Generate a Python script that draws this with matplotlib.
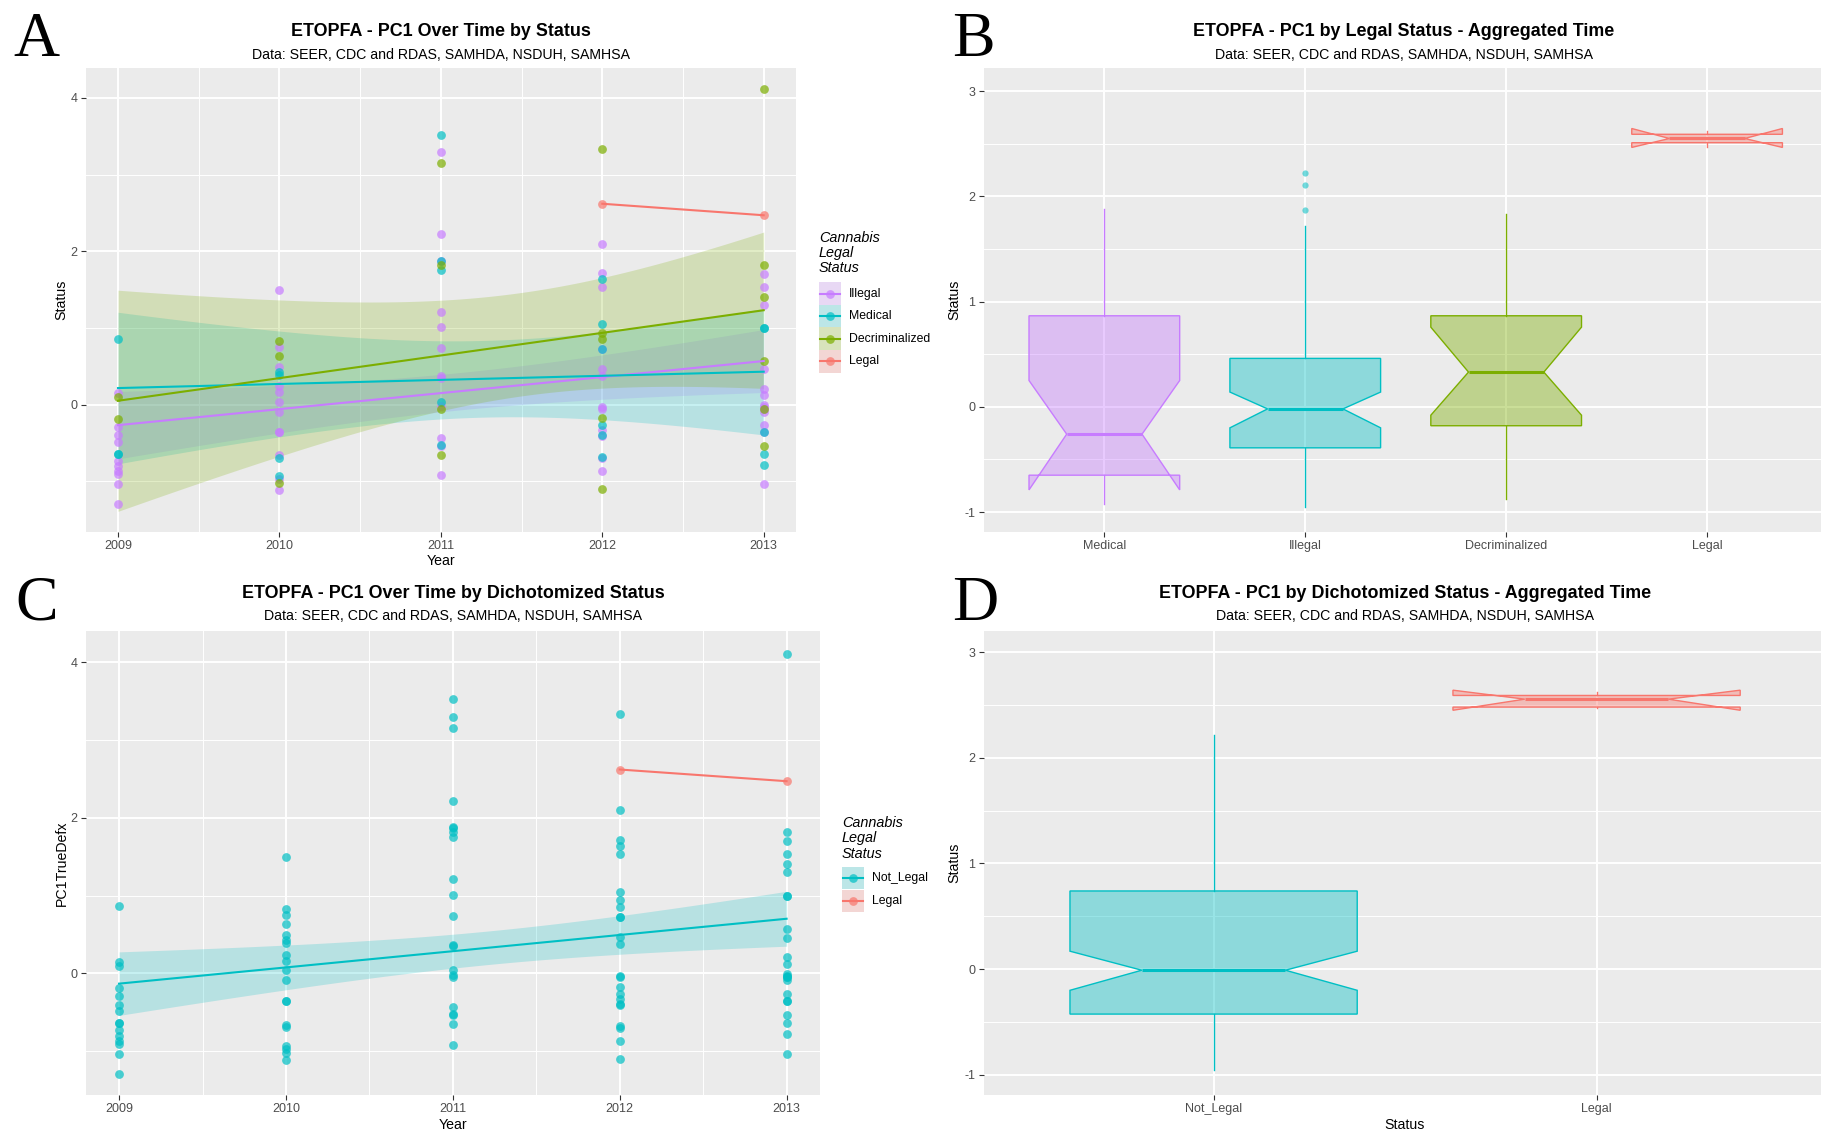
import numpy as np
import matplotlib
matplotlib.use("Agg")
import matplotlib.pyplot as plt
from matplotlib.patches import Rectangle
from matplotlib.lines import Line2D
from matplotlib.ticker import FixedLocator
from matplotlib.colors import to_rgba

plt.rcParams['font.family'] = ['Liberation Sans', 'DejaVu Sans']
plt.rcParams['axes.unicode_minus'] = False

W, H = 1821, 1132

# PC1 values per year (2009..2013) (overlapping dots counted twice)
years = [2009, 2010, 2011, 2012, 2013]
illegal = [
    [0.15, -0.29, -0.40, -0.48, -0.73, -0.80, -0.87, -0.91, -1.03, -1.29],
    [1.50, 0.75, 0.49, 0.24, 0.16, 0.04, -0.09, -0.35, -0.36, -0.66, -0.97, -1.11],
    [3.30, 2.22, 1.87, 1.21, 1.01, 0.74, 0.37, 0.35, -0.02, -0.43, -0.54, -0.92],
    [2.10, 1.72, 1.54, 0.72, 0.47, 0.38, -0.03, -0.05, -0.33, -0.41, -0.70, -0.87],
    [1.70, 1.53, 1.30, 0.46, 0.21, 0.12, -0.01, -0.03, -0.05, -0.09, -0.27, -0.36, -1.03],
]
medical = [
    [0.86, -0.64, -0.64],
    [0.43, 0.39, -0.69, -0.93],
    [3.52, 1.88, 1.75, 0.04, -0.52],
    [1.64, 1.05, 0.73, -0.27, -0.39, -0.68],
    [1.00, 1.00, -0.35, -0.64, -0.78],
]
decrim = [
    [0.10, -0.19],
    [0.83, 0.63, -1.02],
    [3.15, 1.82, -0.05, -0.65],
    [3.33, 0.94, 0.85, -0.18, -1.10],
    [4.11, 1.82, 1.41, 0.57, -0.05, -0.54],
]
legal = [[], [], [], [2.62], [2.47]]

status_names = ['Illegal', 'Medical', 'Decriminalized', 'Legal']
status_colors = ['#C77CFF', '#00BFC4', '#7CAE00', '#F8766D']

box_b_labels = ['Medical', 'Illegal', 'Decriminalized', 'Legal']
box_b_colors = ['#C77CFF', '#00BFC4', '#7CAE00', '#F8766D']
box_b_med = [-0.26, -0.02, 0.33, 2.55]
box_b_q1 = [-0.65, -0.39, -0.18, 2.51]
box_b_q3 = [0.865, 0.46, 0.865, 2.59]
box_b_lo = [-0.92, -0.95, -0.88, 2.47]
box_b_hi = [1.88, 1.72, 1.83, 2.62]
box_b_cilo = [-0.79, -0.20, -0.08, 2.465]
box_b_cihi = [0.25, 0.14, 0.757, 2.645]
box_b_out = [[], [1.87, 2.11, 2.22], [], []]

box_d_labels = ['Not_Legal', 'Legal']
box_d_colors = ['#00BFC4', '#F8766D']
box_d_med = [-0.01, 2.555]
box_d_q1 = [-0.425, 2.48]
box_d_q3 = [0.74, 2.59]
box_d_lo = [-0.95, 2.47]
box_d_hi = [2.22, 2.62]
box_d_cilo = [-0.20, 2.45]
box_d_cihi = [0.17, 2.64]
box_d_out = [[], []]

subtitle = 'Data: SEER, CDC and RDAS, SAMHDA, NSDUH, SAMHSA'


def flat(groups):
    xs, ys = [], []
    for yr, vals in zip(years, groups):
        for v in vals:
            xs.append(yr)
            ys.append(v)
    return np.array(xs, float), np.array(ys, float)


def tq(df):
    z = 1.959964
    return (z + (z**3 + z) / (4 * df) + (5 * z**5 + 16 * z**3 + 3 * z) / (96 * df**2)
            + (3 * z**7 + 19 * z**5 + 17 * z**3 - 15 * z) / (384 * df**3))


def lm_band(x, y):
    xs = np.linspace(x.min(), x.max(), 80)
    n = len(x)
    xm = x.mean()
    sxx = ((x - xm) ** 2).sum()
    b = ((x - xm) * (y - y.mean())).sum() / sxx
    a = y.mean() - b * xm
    fit = a + b * xs
    if n <= 2:
        return xs, fit, None, None
    s = np.sqrt(((y - (a + b * x)) ** 2).sum() / (n - 2))
    se = s * np.sqrt(1 / n + (xs - xm) ** 2 / sxx)
    t = tq(n - 2)
    return xs, fit, fit - t * se, fit + t * se


fig = plt.figure(figsize=(W / 100, H / 100), dpi=100)


def add_axes(l, t, r, b):
    return fig.add_axes([l / W, 1 - b / H, (r - l) / W, (b - t) / H])


def style(ax, xmaj, xmin, ymaj, ymin):
    ax.set_facecolor('#EBEBEB')
    for s in ax.spines.values():
        s.set_visible(False)
    ax.set_axisbelow(True)
    ax.xaxis.set_major_locator(FixedLocator(xmaj))
    ax.xaxis.set_minor_locator(FixedLocator(xmin))
    ax.yaxis.set_major_locator(FixedLocator(ymaj))
    ax.yaxis.set_minor_locator(FixedLocator(ymin))
    ax.grid(which='major', color='white', lw=1.4)
    ax.grid(which='minor', color='white', lw=0.7)
    ax.tick_params(which='major', length=3.5, width=0.8, color='#333333',
                   labelsize=9, labelcolor='#4D4D4D', pad=2.5)
    ax.tick_params(which='minor', length=0)


def ftext(x, y, s, **kw):
    fig.text(x / W, 1 - y / H, s, **kw)


def titles(cx, yt, ys, title):
    ftext(cx, yt, title, ha='center', va='baseline', fontsize=12.9, fontweight='bold')
    ftext(cx, ys, subtitle, ha='center', va='baseline', fontsize=10.2)


def legend(x0, ty, key_ys, labels, colors):
    ftext(x0, ty, 'Cannabis\nLegal\nStatus', ha='left', va='center', fontsize=10.4,
          style='italic', linespacing=1.1)
    kw, kh = 21.5, 22.6
    for y, lab, c in zip(key_ys, labels, colors):
        fig.add_artist(Rectangle((x0 / W, 1 - (y + kh / 2) / H), kw / W, kh / H,
                                 transform=fig.transFigure, facecolor='#F2F2F2', edgecolor='none'))
        fig.add_artist(Rectangle((x0 / W, 1 - (y + kh / 2) / H), kw / W, kh / H,
                                 transform=fig.transFigure, facecolor=c, alpha=0.22, edgecolor='none'))
        fig.add_artist(Line2D([(x0 + 1) / W, (x0 + kw - 1) / W], [1 - y / H] * 2,
                              transform=fig.transFigure, color=c, lw=1.5))
        fig.add_artist(Line2D([(x0 + kw / 2) / W], [1 - y / H], transform=fig.transFigure,
                              marker='o', ms=6.3, color=c, alpha=0.7, mec='none'))
        ftext(x0 + 30, y, lab, ha='left', va='center', fontsize=8.8)


def scatter_smooth(ax, groups_list, colors):
    for groups, c in zip(groups_list, colors):
        x, y = flat(groups)
        ax.scatter(x, y, s=40, color=c, alpha=0.7, lw=0, zorder=3)
    for groups, c in zip(groups_list, colors):
        x, y = flat(groups)
        xs, fit, lo, hi = lm_band(x, y)
        if lo is not None:
            ax.fill_between(xs, lo, hi, color=c, alpha=0.22, lw=0, zorder=2)
        ax.plot(xs, fit, color=c, lw=1.5, zorder=4)


def boxes(ax, labels, colors, med, q1, q3, lo, hi, cilo, cihi, out):
    for i in range(len(labels)):
        st = dict(med=med[i], q1=q1[i], q3=q3[i], whislo=lo[i], whishi=hi[i],
                  cilo=cilo[i], cihi=cihi[i], fliers=out[i])
        c = colors[i]
        ax.bxp([st], positions=[i + 1], widths=0.75, shownotches=True, patch_artist=True,
               showcaps=False, manage_ticks=False,
               boxprops=dict(facecolor=to_rgba(c, 0.4), edgecolor=c, lw=1.0),
               whiskerprops=dict(color=c, lw=1.0),
               medianprops=dict(color=c, lw=2.2),
               flierprops=dict(marker='o', markerfacecolor=to_rgba(c, 0.55), mec='none', ms=4.5))


yrs_minor = [2009.5, 2010.5, 2011.5, 2012.5]

# Panel A
axA = add_axes(85.7, 68, 796, 532)
style(axA, years, yrs_minor, [0, 2, 4], [-1, 1, 3])
scatter_smooth(axA, [illegal, medical, decrim, legal], status_colors)
axA.set_xlim(2008.8, 2013.2)
axA.set_ylim(-1.66, 4.39)
titles(441, 36.5, 59, 'ETOPFA - PC1 Over Time by Status')
ftext(441, 561, 'Year', ha='center', va='center', fontsize=10.2)
ftext(61, 300, 'Status', ha='center', va='center', rotation=90, fontsize=10.2)
legend(819, 253, [293.6, 316.4, 338.6, 361.4], status_names, status_colors)

# Panel B
axB = add_axes(983.8, 68, 1821, 532)
style(axB, [1, 2, 3, 4], [], [-1, 0, 1, 2, 3], [-0.5, 0.5, 1.5, 2.5])
boxes(axB, box_b_labels, box_b_colors, box_b_med, box_b_q1, box_b_q3, box_b_lo, box_b_hi,
      box_b_cilo, box_b_cihi, box_b_out)
axB.set_xticklabels(box_b_labels)
axB.set_xlim(0.4, 4.567)
axB.set_ylim(-1.19, 3.22)
titles(1404, 36.5, 59, 'ETOPFA - PC1 by Legal Status - Aggregated Time')
ftext(954.5, 300, 'Status', ha='center', va='center', rotation=90, fontsize=10.2)

# Panel C
not_legal = [a + b + c for a, b, c in zip(illegal, medical, decrim)]
axC = add_axes(85.7, 631, 820, 1094.5)
style(axC, years, yrs_minor, [0, 2, 4], [-1, 1, 3])
scatter_smooth(axC, [not_legal, legal], ['#00BFC4', '#F8766D'])
axC.set_xlim(2008.8, 2013.2)
axC.set_ylim(-1.556, 4.40)
titles(452.9, 598.3, 620.5, 'ETOPFA - PC1 Over Time by Dichotomized Status')
ftext(452.9, 1124.8, 'Year', ha='center', va='center', fontsize=10.2)
ftext(62, 862.8, 'PC1TrueDefx', ha='center', va='center', rotation=90, fontsize=10.2)
legend(842, 838.4, [878, 901], ['Not_Legal', 'Legal'], ['#00BFC4', '#F8766D'])

# Panel D
axD = add_axes(983.8, 631, 1821, 1094.5)
style(axD, [1, 2], [], [-1, 0, 1, 2, 3], [-0.5, 0.5, 1.5, 2.5])
boxes(axD, box_d_labels, box_d_colors, box_d_med, box_d_q1, box_d_q3, box_d_lo, box_d_hi,
      box_d_cilo, box_d_cihi, box_d_out)
axD.set_xticklabels(box_d_labels)
axD.set_xlim(0.4, 2.586)
axD.set_ylim(-1.186, 3.20)
titles(1404.6, 598.3, 620.5, 'ETOPFA - PC1 by Dichotomized Status - Aggregated Time')
ftext(1404.6, 1124.8, 'Status', ha='center', va='center', fontsize=10.2)
ftext(954.5, 862.8, 'Status', ha='center', va='center', rotation=90, fontsize=10.2)

# panel letters
for lx, ly, letter in [(13, 56, 'A'), (952, 56, 'B'), (15, 620, 'C'), (952, 620, 'D')]:
    ftext(lx, ly, letter, ha='left', va='baseline', fontsize=46, family='Liberation Serif')

fig.savefig('out.png', dpi=100)
